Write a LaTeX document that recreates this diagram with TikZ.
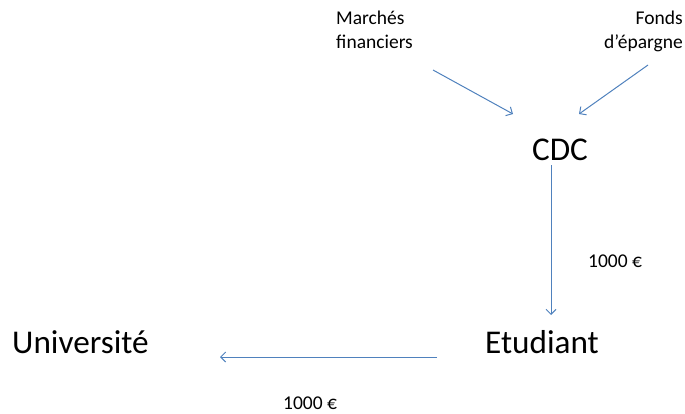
\documentclass[tikz,border=0pt]{standalone}
\usepackage{fontspec}
\setmainfont{Carlito}
\usetikzlibrary{arrows.meta}
\definecolor{arrblue}{RGB}{79,129,189}
\begin{document}
\begin{tikzpicture}[x=1pt,y=-1pt,
  small/.style={font=\fontsize{19.5}{23.5}\selectfont, inner sep=0pt},
  big/.style={font=\fontsize{33.2}{38}\selectfont, inner sep=0pt},
  arr/.style={draw=arrblue, line width=1pt, -{Straight Barb[length=5pt,width=10pt]}}]
\useasboundingbox (0,0) rectangle (685,413);
\node[small, align=left, anchor=base west] (mf) at (336,48) {Marchés\\financiers};
\node[small, align=right, anchor=base east] (fe) at (683,48) {Fonds\\d’épargne};
\node[big, anchor=base] (cdc) at (560,160) {CDC};
\node[big, anchor=base] (etu) at (542,353) {Etudiant};
\node[big, anchor=base west] (univ) at (12,353) {Université};
\node[small, anchor=base west] (l1) at (588,267) {1000 €};
\node[small, anchor=base west] (l2) at (283,409) {1000 €};
\coordinate (mfS) at (433,70);
\coordinate (cdcL) at (513,114);
\coordinate (feS) at (648,65);
\coordinate (cdcR) at (579,114);
\coordinate (cdcB) at (551,165);
\coordinate (etuT) at (551,315);
\coordinate (etuL) at (437,357);
\coordinate (univR) at (220,357);
\draw[arr] (mfS) -- (cdcL);
\draw[arr] (feS) -- (cdcR);
\draw[arr] (cdcB) -- (etuT);
\draw[arr] (etuL) -- (univR);
\end{tikzpicture}
\end{document}
